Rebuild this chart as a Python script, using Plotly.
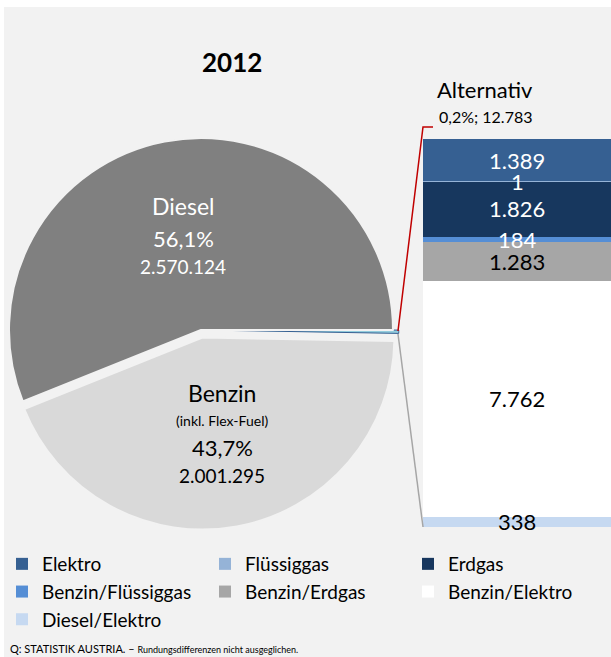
import plotly.graph_objects as go

W, H = 611, 657
FONT = "Lato"

# main pie: order = Alternativ, Benzin, Diesel (clockwise from 3 o'clock)
pie_labels = ["Alternativ", "Benzin", "Diesel"]
pie_values = [12783, 2001295, 2570124]
pie_pct = ["0,2%", "43,7%", "56,1%"]

# breakdown of "Alternativ", bottom of stack first
alt_labels = ["Diesel/Elektro", "Benzin/Elektro", "Benzin/Erdgas",
              "Benzin/Flüssiggas", "Erdgas", "Flüssiggas", "Elektro"]
alt_values = [338, 7762, 1283, 184, 1826, 1, 1389]

alt_colors = ["#C6D9F1", "#FFFFFF", "#A6A6A6", "#558ED5", "#17375E", "#95B3D7", "#366092"]
alt_text_colors = ["#000000", "#000000", "#000000", "#FFFFFF", "#FFFFFF", "#FFFFFF", "#FFFFFF"]


def fmt(v):
    return f"{v:,}".replace(",", ".")


def px(x, y):
    return x / W, 1 - y / H


fig = go.Figure()

# pie centred at (201, 330) px, radius ~192 px
pulls = [0.03, 0.04, 0.0]
box = 192 * 2 * (1 + max(pulls))
fig.add_trace(go.Pie(
    labels=pie_labels,
    values=pie_values,
    sort=False,
    direction="clockwise",
    rotation=90,
    pull=pulls,
    marker=dict(colors=["#93CDDD", "#D9D9D9", "#808080"],
                line=dict(color=["#376092", "#F2F2F2", "#F2F2F2"], width=[1, 2, 2])),
    textinfo="none",
    hoverinfo="label+value",
    showlegend=False,
    domain=dict(x=[(201 - box / 2) / W, (201 + box / 2) / W],
                y=[1 - (330 + box / 2) / H, 1 - (330 - box / 2) / H]),
))

for lab, val, col in zip(alt_labels, alt_values, alt_colors):
    fig.add_trace(go.Bar(
        x=[0], y=[val], width=1, name=lab,
        marker=dict(color=col, line=dict(width=0)),
        xaxis="x", yaxis="y",
    ))

# bar labels at the middle of each stacked segment
ann = []
base = 0
for val, tc in zip(alt_values, alt_text_colors):
    ann.append(dict(x=0, y=base + val / 2, xref="x", yref="y", text=fmt(val),
                    showarrow=False, font=dict(family=FONT, size=22, color=tc)))
    base += val

# pie labels
d, b, a = pie_values[2], pie_values[1], pie_values[0]
pie_text = [
    ("Diesel", 183, 206, 23, "white"),
    (pie_pct[2], 183, 238, 22, "white"),
    (fmt(d), 183, 267, 19, "white"),
    ("Benzin", 222, 393, 23, "black"),
    ("(inkl. Flex-Fuel)", 222, 420, 14, "black"),
    (pie_pct[1], 222, 447, 22, "black"),
    (fmt(b), 222, 475, 19, "black"),
    ("<b>2012</b>", 232, 62, 26, "black"),
    ("Alternativ", 485, 89, 22, "black"),
    (f"{pie_pct[0]}; {fmt(a)}", 485, 116, 16, "black"),
]
for txt, x, y, s, c in pie_text:
    xx, yy = px(x, y)
    ann.append(dict(x=xx, y=yy, xref="paper", yref="paper", text=txt, showarrow=False,
                    xanchor="center", yanchor="middle", font=dict(family=FONT, size=s, color=c)))

sx, sy = px(8, 648)
ann.append(dict(x=sx, y=sy, xref="paper", yref="paper", showarrow=False,
                xanchor="left", yanchor="middle",
                text="Q: STATISTIK AUSTRIA. – <span style='font-size:9px'>Rundungsdifferenzen nicht ausgeglichen.</span>",
                font=dict(family=FONT, size=11, color="black")))


def path(points):
    pts = [px(x, y) for x, y in points]
    return "M " + " L ".join(f"{x},{y}" for x, y in pts)


shapes = [
    dict(type="rect", xref="paper", yref="paper", x0=0, x1=1, y0=1 - 7 / H, y1=1,
         fillcolor="white", line=dict(width=0)),
    dict(type="rect", xref="paper", yref="paper", x0=0, x1=4 / W, y0=0, y1=1,
         fillcolor="white", line=dict(width=0)),
    dict(type="path", xref="paper", yref="paper",
         path=path([(398, 331), (423, 127), (433, 127)]),
         line=dict(color="#C00000", width=1.5)),
    dict(type="path", xref="paper", yref="paper",
         path=path([(398, 334), (423, 527)]),
         line=dict(color="#A6A6A6", width=1.5)),
]

total = sum(alt_values)
fig.update_layout(
    width=W, height=H,
    margin=dict(l=0, r=0, t=0, b=0),
    paper_bgcolor="#F2F2F2",
    plot_bgcolor="rgba(0,0,0,0)",
    barmode="stack",
    bargap=0,
    xaxis=dict(domain=[423 / W, 1], range=[-0.5, 0.5], visible=False, fixedrange=True),
    yaxis=dict(domain=[1 - 527 / H, 1 - 139 / H], range=[0, total], visible=False, fixedrange=True),
    legend=dict(orientation="h", x=3 / W, y=1 - 545 / H, xanchor="left", yanchor="top",
                traceorder="reversed", entrywidth=158, bgcolor="rgba(0,0,0,0)",
                font=dict(family=FONT, size=19, color="black")),
    annotations=ann,
    shapes=shapes,
    font=dict(family=FONT),
)

fig.write_html("out.html", config={"displayModeBar": False},
               post_script="document.body.style.margin = '0';")
